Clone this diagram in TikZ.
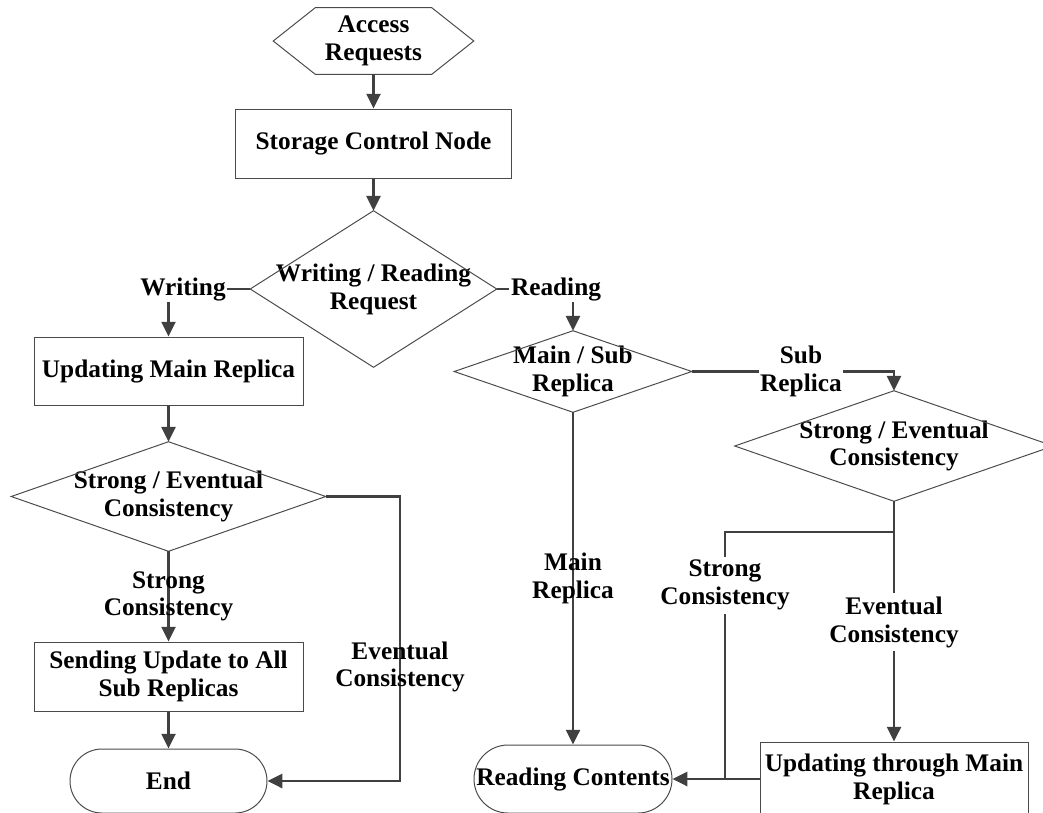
\documentclass[tikz,border=0pt]{standalone}
\usepackage{fontspec}
\setmainfont{Liberation Serif}
\usetikzlibrary{arrows.meta,calc}
\newcommand\lblfont{\fontsize{18}{19.8}\selectfont\bfseries}
\def\pxu{0.025cm}
\definecolor{conn}{HTML}{404040}
\definecolor{outl}{HTML}{4A4A4A}
\begin{document}
\begin{tikzpicture}[x=0.025cm,y=-0.025cm,
  shp/.style={draw=outl, line width=0.7pt},
  txt/.style={font=\lblfont, align=center, inner sep=0pt, text=black},
  box/.style={shp, txt},
  con/.style={draw=conn, line width=1.7pt},
  arr/.style={con, -{Triangle[length=10.5pt,width=10pt]}},
  wlab/.style={txt, fill=white, inner xsep=1pt, inner ysep=2.5pt},
  blab/.style={txt, inner sep=1pt}]
\useasboundingbox (0,0) rectangle (1043,812);
\clip (0,0) rectangle (1043,812);

% start hexagon
\node[txt, minimum width=200*\pxu, minimum height=66*\pxu] (acc) at (373.5,41) {Access\\Requests};
\draw[shp] (acc.west) -- ($(acc.north west)+(42,0)$) -- ($(acc.north east)+(-42,0)$) -- (acc.east)
  -- ($(acc.south east)+(-42,0)$) -- ($(acc.south west)+(42,0)$) -- cycle;

\node[box, minimum width=276*\pxu, minimum height=69*\pxu] (sto) at (373.5,143.5) {Storage Control Node};

% writing / reading decision
\node[txt, minimum width=246*\pxu, minimum height=156*\pxu] (wr) at (373.5,289) {Writing / Reading\\Request};
\draw[shp] (wr.north) -- (wr.east) -- (wr.south) -- (wr.west) -- cycle;

\node[blab] (wlab) at (183,289) {Writing};
\node[blab] (rlab) at (556,289) {Reading};

% left branch
\node[box, minimum width=269*\pxu, minimum height=68*\pxu] (umr) at (168.5,371) {Updating Main Replica};
\node[txt, minimum width=314*\pxu, minimum height=109*\pxu] (lse) at (168.5,496.5) {Strong / Eventual\\Consistency};
\draw[shp] (lse.north) -- (lse.east) -- (lse.south) -- (lse.west) -- cycle;
\node[box, minimum width=269*\pxu, minimum height=69*\pxu] (sen) at (168.5,676.5) {Sending Update to All\\Sub Replicas};
\node[shp, txt, rounded corners=0.8cm, minimum width=197*\pxu, minimum height=64*\pxu] (end) at (168.5,781) {End};

% right branch
\node[txt, minimum width=237*\pxu, minimum height=81*\pxu] (ms) at (573,371.5) {Main / Sub\\Replica};
\draw[shp] (ms.north) -- (ms.east) -- (ms.south) -- (ms.west) -- cycle;
\node[txt, minimum width=318*\pxu, minimum height=110*\pxu] (rse) at (894,446) {Strong / Eventual\\Consistency};
\draw[shp] (rse.north) -- (rse.east) -- (rse.south) -- (rse.west) -- cycle;
\node[shp, txt, rounded corners=0.85cm, minimum width=198*\pxu, minimum height=68*\pxu] (rc) at (573,779) {Reading Contents};
\node[box, minimum width=268*\pxu, minimum height=74*\pxu] (utm) at (894,779) {Updating through Main\\Replica};

% connectors
\draw[arr] (acc.south) -- (sto.north);
\draw[arr] (sto.south) -- (wr.north);
\draw[con] (wr.west) -- (wlab.east);
\draw[arr] (wlab.south -| umr.north) -- (umr.north);
\draw[con] (wr.east) -- (rlab.west);
\draw[arr] (rlab.south -| ms.north) -- (ms.north);

\draw[arr] (umr.south) -- (lse.north);
\draw[arr] (lse.south) -- node[txt] (lsl) {Strong\\Consistency} (sen.north);
\draw[arr] (sen.south) -- (end.north);
\coordinate (lec) at (400,496.5);
\draw[arr] (lse.east) -- (lec) |- (end.east);
\node[txt] (lel) at (400,667) {Eventual\\Consistency};

\draw[arr] (ms.east) -- node[wlab, pos=0.54] (subl) {Sub\\Replica} (ms.east -| rse.north) -- (rse.north);
\draw[arr] (ms.south) -- node[txt, pos=0.5] (mrl) {Main\\Replica} (rc.north);
\coordinate (rj) at (894,532);
\coordinate (sj) at (725,532);
\draw[arr] (rse.south) -- (rj) -- node[wlab, pos=0.43] (evl) {Eventual\\Consistency} (utm.north);
\draw[con] (rj) -- (sj) -- node[wlab, pos=0.215] (stl) {Strong\\Consistency} (sj |- rc.east);
\draw[arr] (utm.west |- rc.east) -- (rc.east);
\end{tikzpicture}
\end{document}
